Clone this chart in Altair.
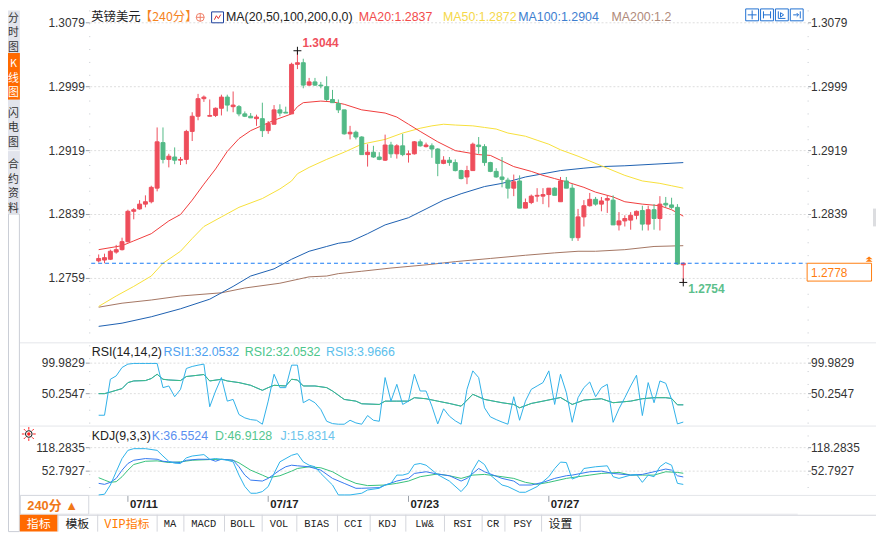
import altair as alt
import pandas as pd

# ---------------- values ----------------
opens = [
    1.2781, 1.2782, 1.2783, 1.2792, 1.2795, 1.2805, 1.2843, 1.2846, 1.2852, 1.2855,
    1.2872, 1.2929, 1.2908, 1.2911, 1.2907, 1.2908, 1.2943, 1.2962, 1.2984, 1.2962,
    1.2963, 1.2972, 1.2986, 1.2974, 1.2974, 1.2965, 1.2962, 1.2959, 1.2959, 1.2944,
    1.2952, 1.2970, 1.2967, 1.2965, 1.3027, 1.3029, 1.3001, 1.3005, 1.3001, 1.2999,
    1.2983, 1.2978, 1.2970, 1.2940, 1.2942, 1.2936, 1.2914, 1.2917, 1.2911, 1.2907,
    1.2926, 1.2915, 1.2925, 1.2914, 1.2915, 1.2930, 1.2924, 1.2925, 1.2921, 1.2903,
    1.2907, 1.2904, 1.2894, 1.2886, 1.2894, 1.2926, 1.2924, 1.2904, 1.2893, 1.2886,
    1.2882, 1.2872, 1.2881, 1.2847, 1.2854, 1.2862, 1.2862, 1.2864, 1.2872, 1.2855,
    1.2881, 1.2872, 1.2810, 1.2836, 1.2850, 1.2858, 1.2852, 1.2857, 1.2857, 1.2826,
    1.2831, 1.2832, 1.2838, 1.2844, 1.2827, 1.2845, 1.2834, 1.2853, 1.2851, 1.2848,
    1.2776]
highs = [
    1.2789, 1.2790, 1.2795, 1.2801, 1.2810, 1.2845, 1.2847, 1.2857, 1.2863, 1.2875,
    1.2948, 1.2948, 1.2915, 1.2923, 1.2911, 1.2945, 1.2967, 1.2990, 1.2988, 1.2983,
    1.2973, 1.2989, 1.2989, 1.2993, 1.2976, 1.2968, 1.2966, 1.2964, 1.2979, 1.2956,
    1.2976, 1.2977, 1.2974, 1.3029, 1.3044, 1.3034, 1.3010, 1.3010, 1.3005, 1.3012,
    1.2995, 1.2983, 1.2970, 1.2950, 1.2944, 1.2937, 1.2927, 1.2925, 1.2917, 1.2939,
    1.2930, 1.2927, 1.2940, 1.2919, 1.2931, 1.2933, 1.2929, 1.2928, 1.2922, 1.2912,
    1.2911, 1.2908, 1.2895, 1.2900, 1.2929, 1.2936, 1.2927, 1.2905, 1.2897, 1.2911,
    1.2885, 1.2889, 1.2888, 1.2859, 1.2864, 1.2872, 1.2872, 1.2872, 1.2873, 1.2886,
    1.2886, 1.2877, 1.2846, 1.2857, 1.2866, 1.2861, 1.2861, 1.2863, 1.2863, 1.2842,
    1.2838, 1.2842, 1.2844, 1.2850, 1.2850, 1.2852, 1.2862, 1.2861, 1.2860, 1.2852,
    1.2779]
lows = [
    1.2779, 1.2778, 1.2782, 1.2790, 1.2794, 1.2804, 1.2833, 1.2845, 1.2848, 1.2853,
    1.2868, 1.2903, 1.2898, 1.2902, 1.2901, 1.2902, 1.2931, 1.2957, 1.2980, 1.2962,
    1.2961, 1.2963, 1.2968, 1.2967, 1.2962, 1.2961, 1.2960, 1.2950, 1.2936, 1.2940,
    1.2952, 1.2962, 1.2966, 1.2965, 1.3021, 1.2997, 1.3000, 1.3000, 1.2997, 1.2981,
    1.2979, 1.2966, 1.2939, 1.2933, 1.2933, 1.2914, 1.2899, 1.2910, 1.2907, 1.2906,
    1.2910, 1.2909, 1.2912, 1.2904, 1.2914, 1.2924, 1.2923, 1.2910, 1.2887, 1.2902,
    1.2900, 1.2893, 1.2883, 1.2877, 1.2894, 1.2915, 1.2900, 1.2892, 1.2885, 1.2873,
    1.2859, 1.2862, 1.2847, 1.2847, 1.2852, 1.2855, 1.2852, 1.2848, 1.2863, 1.2855,
    1.2872, 1.2806, 1.2806, 1.2824, 1.2849, 1.2850, 1.2843, 1.2841, 1.2826, 1.2819,
    1.2824, 1.2820, 1.2833, 1.2819, 1.2819, 1.2820, 1.2819, 1.2848, 1.2846, 1.2776,
    1.2754]
closes = [
    1.2784, 1.2785, 1.2793, 1.2795, 1.2805, 1.2843, 1.2845, 1.2852, 1.2855, 1.2873,
    1.2930, 1.2908, 1.2912, 1.2907, 1.2908, 1.2943, 1.2962, 1.2984, 1.2986, 1.2963,
    1.2972, 1.2986, 1.2976, 1.2976, 1.2965, 1.2962, 1.2960, 1.2961, 1.2944, 1.2953,
    1.2970, 1.2966, 1.2966, 1.3027, 1.3029, 1.3001, 1.3005, 1.3001, 1.3000, 1.2983,
    1.2979, 1.2970, 1.2940, 1.2942, 1.2936, 1.2914, 1.2917, 1.2911, 1.2908, 1.2926,
    1.2915, 1.2925, 1.2914, 1.2915, 1.2930, 1.2925, 1.2926, 1.2921, 1.2903, 1.2907,
    1.2904, 1.2894, 1.2884, 1.2894, 1.2927, 1.2924, 1.2904, 1.2893, 1.2886, 1.2883,
    1.2872, 1.2880, 1.2847, 1.2854, 1.2862, 1.2863, 1.2864, 1.2872, 1.2863, 1.2881,
    1.2872, 1.2810, 1.2836, 1.2850, 1.2858, 1.2852, 1.2856, 1.2859, 1.2826, 1.2831,
    1.2834, 1.2838, 1.2843, 1.2827, 1.2845, 1.2834, 1.2852, 1.2851, 1.2848, 1.2777,
    1.2778]

ma20 = [(0, 1.2795), (4, 1.2800), (6, 1.2806), (9, 1.2815), (12, 1.2831), (14, 1.2839),
        (16, 1.2857), (18, 1.2877), (20, 1.2896), (22, 1.2918), (24, 1.2934), (26, 1.2944),
        (30, 1.2957), (33, 1.2965), (34, 1.2974), (35, 1.2979), (38, 1.2981), (40, 1.2980),
        (42, 1.2977), (45, 1.2970), (49, 1.2966), (51, 1.2961), (53, 1.2952), (55, 1.2943),
        (58, 1.2930), (61, 1.2919), (65, 1.2914), (67, 1.2913), (69, 1.2906), (71, 1.2899),
        (74, 1.2893), (76, 1.2888), (78, 1.2884), (80, 1.2880), (83, 1.2873), (85, 1.2867),
        (88, 1.2861), (90, 1.2855), (93, 1.2852), (96, 1.2850), (98, 1.2845), (100, 1.2837)]
ma50 = [(0, 1.2724), (3, 1.2737), (6, 1.2749), (9, 1.2762), (11, 1.2778), (14, 1.2793),
        (16, 1.2809), (18, 1.2824), (21, 1.2836), (24, 1.2848), (28, 1.2859), (31, 1.2871),
        (33, 1.2881), (34, 1.2890), (36, 1.2898), (39, 1.2908), (42, 1.2917), (45, 1.2927),
        (49, 1.2933), (52, 1.2941), (55, 1.2947), (57, 1.2950), (59, 1.2952), (61, 1.2951),
        (64, 1.2950), (66, 1.2948), (68, 1.2946), (70, 1.2941), (73, 1.2937), (75, 1.2932),
        (77, 1.2927), (79, 1.2920), (82, 1.2912), (86, 1.2900), (90, 1.2888), (93, 1.2881),
        (96, 1.2878), (98, 1.2875), (100, 1.2872)]
ma100 = [(0, 1.2699), (4, 1.2703), (9, 1.2711), (14, 1.2721), (19, 1.2733), (21, 1.2741),
         (23, 1.2749), (26, 1.2762), (30, 1.2771), (33, 1.2783), (36, 1.2793), (39, 1.2799),
         (41, 1.2803), (43, 1.2805), (46, 1.2815), (49, 1.2826), (53, 1.2835), (56, 1.2846),
         (59, 1.2857), (62, 1.2865), (66, 1.2874), (69, 1.2878), (73, 1.2886), (76, 1.2890),
         (79, 1.2894), (83, 1.2897), (86, 1.2899), (90, 1.2900), (95, 1.2902), (100, 1.2904)]
ma200 = [(0, 1.2723), (4, 1.2728), (9, 1.2732), (14, 1.2737), (21, 1.2741), (25, 1.2747),
         (31, 1.2753), (36, 1.2761), (39, 1.2762), (41, 1.2765), (45, 1.2768), (50, 1.2772),
         (56, 1.2776), (61, 1.2780), (67, 1.2784), (73, 1.2788), (78, 1.2791), (82, 1.2793),
         (85, 1.2793), (90, 1.2795), (95, 1.2799), (100, 1.2800)]

rsi3 = [15.1, 15.1, 73.7, 79.2, 92.9, 98.4, 99.5, 99.5, 99.5, 99.5,
        99.5, 60.1, 62.8, 45.3, 57.3, 91.3, 94.6, 96.7, 98.4, 28.9,
        54.6, 76.5, 38.1, 40.9, 16.3, 10.8, 8.0, 6.9, 0.5, 38.1,
        81.9, 60.1, 60.1, 96.7, 96.7, 35.5, 40.9, 35.5, 24.5, 5.3,
        1.5, 0.5, 0.5, 6.9, 2.6, 0.5, 14.6, 6.9, 5.3, 76.5,
        38.1, 65.5, 32.7, 38.1, 81.9, 54.6, 54.6, 29.9, 1.0, 25.6,
        13.5, 6.0, 0.5, 57.3, 87.4, 76.5, 27.2, 12.5, 8.0, 4.0,
        0.5, 45.3, 6.9, 38.1, 57.3, 62.8, 68.3, 87.4, 32.7, 81.9,
        51.9, 3.6, 43.7, 60.1, 69.3, 45.3, 60.1, 65.5, 3.6, 25.6,
        43.7, 62.8, 80.3, 14.6, 68.3, 35.5, 71.0, 67.2, 40.9, 1.0,
        3.9666]
rsi2 = [(0, 50.3), (1, 50.3), (2, 52.9), (3, 55.7), (4, 58.5), (5, 68.3), (6, 71.0), (8, 71.6),
        (9, 74.9), (10, 81.9), (11, 73.7), (12, 72.6), (14, 71.6), (15, 78.2), (17, 80.3),
        (18, 81.5), (19, 71.0), (21, 73.7), (22, 71.0), (24, 68.3), (26, 63.9), (28, 55.7),
        (29, 60.1), (30, 63.9), (32, 62.8), (33, 73.7), (34, 72.6), (35, 62.8), (37, 62.8),
        (39, 60.1), (40, 54.6), (42, 40.9), (44, 38.1), (45, 33.8), (48, 32.7), (49, 38.1),
        (51, 38.1), (53, 38.1), (54, 43.7), (56, 42.0), (58, 38.1), (60, 34.3), (62, 29.9),
        (64, 49.2), (66, 40.9), (69, 35.5), (71, 32.7), (72, 27.2), (74, 34.3), (76, 38.1),
        (78, 42.0), (79, 44.0), (81, 32.7), (83, 39.8), (86, 42.0), (88, 35.5), (91, 38.1),
        (93, 42.0), (95, 43.7), (97, 43.7), (98, 42.5), (99, 32.1), (100, 32.05)]
rsi1 = list(rsi2)  # legend shows RSI1 == RSI2 (32.0532); drawn underneath
kdj_k = [(0, 18.8), (1, 16.0), (2, 21.6), (3, 32.6), (4, 55.6), (5, 74.1), (6, 83.2), (8, 87.9),
         (10, 86.0), (11, 80.4), (12, 78.8), (14, 76.8), (15, 83.2), (17, 86.0), (19, 86.0),
         (20, 80.4), (21, 86.0), (23, 83.2), (24, 65.0), (25, 41.8), (26, 27.9), (28, 25.2),
         (29, 32.6), (31, 55.6), (32, 65.0), (33, 69.4), (34, 67.7), (36, 65.0), (38, 55.6),
         (40, 32.6), (42, 18.8), (44, 5.0), (45, 5.0), (48, 6.9), (49, 14.1), (51, 25.2),
         (53, 32.6), (54, 46.4), (56, 51.1), (58, 44.5), (60, 40.0), (62, 25.2), (63, 32.6),
         (65, 60.2), (66, 51.1), (69, 32.6), (71, 25.2), (72, 14.1), (74, 14.1), (76, 21.6),
         (78, 32.6), (80, 40.0), (81, 41.8), (84, 51.1), (86, 52.8), (88, 46.4), (91, 41.8),
         (93, 43.7), (95, 51.1), (97, 58.7), (98, 55.6), (99, 40.0), (100, 36.5524)]
kdj_d = [(0, 34.5), (1, 28.0), (2, 21.6), (3, 23.5), (4, 37.3), (5, 55.6), (6, 71.3), (8, 80.4),
         (10, 81.5), (12, 76.8), (14, 78.8), (16, 83.2), (19, 85.1), (21, 86.0), (23, 83.2),
         (24, 76.0), (26, 55.6), (28, 41.8), (29, 34.5), (31, 40.0), (33, 52.8), (34, 60.2),
         (36, 65.0), (38, 62.2), (40, 51.1), (42, 32.6), (44, 18.8), (46, 12.5), (49, 14.1),
         (51, 18.8), (53, 25.2), (55, 37.3), (58, 45.0), (60, 40.0), (62, 32.6), (64, 41.8),
         (66, 43.7), (69, 37.3), (71, 32.6), (73, 21.6), (75, 16.0), (77, 21.6), (80, 32.6),
         (82, 37.3), (84, 41.8), (86, 46.4), (89, 49.3), (91, 41.8), (93, 41.8), (95, 41.8),
         (97, 51.1), (99, 49.3), (100, 46.9128)]
kdj_j = [(0, -13.5), (1, -11.6), (2, 14.1), (3, 51.1), (4, 87.9), (5, 110.8), (6, 115.5),
         (8, 115.5), (10, 110.8), (11, 95.0), (12, 80.0), (13, 75.0), (14, 74.0), (15, 89.8),
         (16, 95.0), (18, 99.0), (19, 86.0), (20, 88.0), (22, 83.2), (23, 78.8), (24, 41.8),
         (25, 10.0), (26, -8.8), (27, -8.8), (28, -4.2), (29, 9.7), (30, 46.4), (31, 78.8),
         (33, 97.0), (34, 101.7), (35, 78.8), (36, 69.4), (37, 65.0), (38, 46.4), (40, 14.1),
         (41, -13.5), (42, -13.5), (43, -13.5), (45, -8.8), (46, 0.3), (48, 5.0), (49, 14.1),
         (50, 18.8), (51, 41.8), (52, 41.8), (53, 46.4), (54, 71.3), (55, 74.1), (56, 69.4),
         (58, 43.0), (60, 25.0), (62, -4.2), (63, 14.1), (64, 55.6), (65, 83.2), (66, 71.3),
         (67, 41.8), (69, 14.1), (70, 9.7), (72, -6.1), (73, -6.1), (75, 9.7), (76, 23.5),
         (77, 37.3), (78, 60.0), (79, 78.0), (80, 76.8), (81, 30.7), (82, 37.3), (83, 60.2),
         (85, 65.0), (87, 67.7), (88, 37.3), (89, 32.6), (91, 41.8), (92, 43.7), (93, 21.6),
         (94, 41.8), (95, 37.3), (96, 65.0), (97, 76.8), (98, 69.4), (99, 18.8), (100, 15.8314)]

price_ticks = [1.3079, 1.2999, 1.2919, 1.2839, 1.2759]
rsi_ticks = [99.9829, 50.2547]
kdj_ticks = [118.2835, 52.7927]
date_pos = [5, 29, 53, 77]
date_labels = ["07/11", "07/17", "07/23", "07/27"]
last_price = 1.2778

symbol = "英镑美元"
period_txt = "【240分】"
ma_title = "MA(20,50,100,200,0,0)"
ma_legend = ["MA20:1.2837", "MA50:1.2872", "MA100:1.2904", "MA200:1.2"]
rsi_title = "RSI(14,14,2)"
rsi_legend = ["RSI1:32.0532", "RSI2:32.0532", "RSI3:3.9666"]
kdj_title = "KDJ(9,3,3)"
kdj_legend = ["K:36.5524", "D:46.9128", "J:15.8314"]
side_tabs = ["分时图", "K线图", "闪电图", "合约资料"]
tool_tabs = ["指标", "模板", "VIP指标", "MA", "MACD", "BOLL", "VOL", "BIAS", "CCI",
             "KDJ", "LW&", "RSI", "CR", "PSY", "设置"]
period_btn = "240分 ▲"

# ---------------- styles ----------------
FONT = "Liberation Sans, Noto Sans CJK SC, sans-serif"
CJK = "Noto Sans CJK SC, sans-serif"
MONO = "Liberation Mono, monospace"
UP, DOWN = "#ee4d5b", "#52b986"
C_MA = ["#f03c3c", "#f7e03a", "#1c5fb0", "#a47562"]
C_MA_TXT = ["#f24b4b", "#f5d84a", "#3d7ecf", "#b08a7a"]
C_RSI = ["#3d8be8", "#3cbf80", "#2fb0e8"]
C_RSI_TXT = ["#4d9ff0", "#4cc68c", "#5cc0ec"]
C_KDJ = ["#3478f0", "#36c07a", "#2cb2ea"]
C_KDJ_TXT = ["#5a8ff0", "#54c690", "#6cc4ec"]
GRID = "#dedede"
SEP = "#e4e6ea"
ORANGE = "#ff7d0f"
TXT = "#333333"

W, H = 876, 526
XS = alt.Scale(domain=[0, len(opens) - 1], range=[86.5, 686.5], nice=False, zero=False)
YM = alt.Scale(domain=[price_ticks[-1], price_ticks[0]], range=[270.5, 12.5], nice=False, zero=False)
YR = alt.Scale(domain=[rsi_ticks[1], rsi_ticks[0]], range=[386.8, 356.0], nice=False, zero=False)
YK = alt.Scale(domain=[kdj_ticks[1], kdj_ticks[0]], range=[465.0, 441.3], nice=False, zero=False)


def X(f="i"):
    return alt.X(f"{f}:Q", scale=XS, axis=None)


def Y(f, sc):
    return alt.Y(f"{f}:Q", scale=sc, axis=None)


ONE = pd.DataFrame({"k": [0]})


def txt(s, x, y, color=TXT, size=12, bold=False, align="left", font=FONT, baseline="middle", lh=None):
    kw = dict(text=s, align=align, baseline=baseline, color=color, fontSize=size, font=font)
    if bold:
        kw["fontWeight"] = "bold"
    if lh:
        kw["lineHeight"] = lh
    return alt.Chart(ONE).mark_text(**kw).encode(x=alt.value(x), y=alt.value(y))


def box(x0, x1, y0, y1, fill=None, stroke=None, sw=1):
    kw = {}
    if fill:
        kw["fill"] = fill
    else:
        kw["fillOpacity"] = 0
    if stroke:
        kw["stroke"] = stroke
        kw["strokeWidth"] = sw
    return alt.Chart(ONE).mark_rect(**kw).encode(
        x=alt.value(x0), x2=alt.value(x1), y=alt.value(y0), y2=alt.value(y1))


def hline(y, x0, x1, color, dash=None, sw=1):
    kw = dict(color=color, strokeWidth=sw)
    if dash:
        kw["strokeDash"] = dash
    return alt.Chart(ONE).mark_rule(**kw).encode(x=alt.value(x0), x2=alt.value(x1), y=alt.value(y))


def vline(x, y0, y1, color, dash=None, sw=1):
    kw = dict(color=color, strokeWidth=sw)
    if dash:
        kw["strokeDash"] = dash
    return alt.Chart(ONE).mark_rule(**kw).encode(x=alt.value(x), y=alt.value(y0), y2=alt.value(y1))


def pt(x, y, shape, size, color, filled=False, sw=1):
    return alt.Chart(ONE).mark_point(shape=shape, size=size, filled=filled, color=color,
                                     strokeWidth=sw, opacity=1).encode(x=alt.value(x), y=alt.value(y))


CROSS = "M-1,0L1,0M0,-1L0,1"

# ---------------- data frames ----------------
n = len(opens)
candles = pd.DataFrame({"i": list(range(n)), "o": opens, "h": highs, "l": lows, "c": closes})
candles["dir"] = ["up" if c >= o else "down" for o, c in zip(opens, closes)]
CS = alt.Scale(domain=["up", "down"], range=[UP, DOWN])


def series(pairs):
    return pd.DataFrame(pairs, columns=["i", "v"])


def tick_df(vals):
    return pd.DataFrame({"v": vals, "lab": [f"{v:.4f}" for v in vals]})


def panel_frame(vals, sc, right_vals=None):
    d = tick_df(vals)
    dr = tick_df(vals if right_vals is None else right_vals)
    grid = alt.Chart(d).mark_rule(color=GRID, strokeDash=[2, 2]).encode(
        y=Y("v", sc), x=alt.value(83), x2=alt.value(807))
    left = alt.Chart(d).mark_text(align="right", baseline="middle", fontSize=12, font=FONT,
                                  color=TXT).encode(y=Y("v", sc), x=alt.value(77.5), text="lab:N")
    right = alt.Chart(dr).mark_text(align="left", baseline="middle", fontSize=12, font=FONT,
                                    color=TXT).encode(y=Y("v", sc), x=alt.value(810.5), text="lab:N")
    tl = alt.Chart(d).mark_rule(color="#9aa0a8").encode(y=Y("v", sc), x=alt.value(78.5), x2=alt.value(82.5))
    tr = alt.Chart(d).mark_rule(color="#9aa0a8").encode(y=Y("v", sc), x=alt.value(807.5), x2=alt.value(810.5))
    return [grid, left, right, tl, tr]


# ---------------- main price panel ----------------
# the last-price box on the right axis hides the tick label that it covers
right_price_ticks = [v for v in price_ticks if abs(v - last_price) > 0.0025]
main_layers = panel_frame(price_ticks, YM, right_price_ticks)
for pairs, col in zip([ma200, ma100, ma50, ma20], [C_MA[3], C_MA[2], C_MA[1], C_MA[0]]):
    main_layers.append(alt.Chart(series(pairs)).mark_line(color=col, strokeWidth=1).encode(
        x=X(), y=Y("v", YM)))
main_layers.append(alt.Chart(candles).mark_rule(strokeWidth=1).encode(
    x=X(), y=Y("l", YM), y2="h:Q", color=alt.Color("dir:N", scale=CS, legend=None)))
main_layers.append(alt.Chart(candles).mark_bar(size=4, strokeWidth=1).encode(
    x=X(), y=Y("o", YM), y2="c:Q",
    color=alt.Color("dir:N", scale=CS, legend=None),
    stroke=alt.Stroke("dir:N", scale=CS, legend=None)))

last_df = pd.DataFrame({"p": [last_price], "lab": [f"{last_price:.4f}"]})
main_layers.append(alt.Chart(last_df).mark_rule(color="#1a7cf5", strokeDash=[4, 3], strokeWidth=1.2).encode(
    y=Y("p", YM), x=alt.value(84), x2=alt.value(806)))
main_layers.append(alt.Chart(last_df).mark_rect(fill="white", stroke=ORANGE, strokeWidth=1, y2Offset=18).encode(
    y=Y("p", YM), y2="p:Q", x=alt.value(806.5), x2=alt.value(871.5)))
main_layers.append(alt.Chart(last_df).mark_text(align="left", baseline="middle", dy=9.5, color=ORANGE,
                                                fontSize=12, font=FONT).encode(
    y=Y("p", YM), x=alt.value(810.5), text="lab:N"))
main_layers.append(alt.Chart(last_df).mark_point(
    shape="M-1,0.3L0,-0.5L1,0.3ZM-1,1L0,0.2L1,1Z", size=49, filled=True, color=ORANGE,
    opacity=1, yOffset=-5).encode(y=Y("p", YM), x=alt.value(869)))

hi_i = max(range(n), key=lambda k: highs[k])
lo_i = min(range(n), key=lambda k: lows[k])
hi_df = pd.DataFrame({"i": [hi_i], "p": [highs[hi_i]], "lab": [f"{highs[hi_i]:.4f}"]})
lo_df = pd.DataFrame({"i": [lo_i], "p": [lows[lo_i]], "lab": [f"{lows[lo_i]:.4f}"]})
for d, col, dx, dy in [(hi_df, "#ef4f5c", 5, -8), (lo_df, "#5cbf8c", 5, 7)]:
    main_layers.append(alt.Chart(d).mark_point(shape=CROSS, size=64, filled=False, color="#111",
                                               strokeWidth=1, opacity=1).encode(x=X(), y=Y("p", YM)))
    main_layers.append(alt.Chart(d).mark_text(align="left", baseline="middle", dx=dx, dy=dy, color=col,
                                              fontSize=12, fontWeight="bold", font=FONT).encode(
        x=X(), y=Y("p", YM), text="lab:N"))
main = alt.layer(*main_layers)

# ---------------- RSI panel ----------------
rsi_layers = panel_frame(rsi_ticks, YR)
rsi3_df = pd.DataFrame({"i": list(range(len(rsi3))), "v": rsi3})
for d, col in [(series(rsi1), C_RSI[0]), (series(rsi2), C_RSI[1]), (rsi3_df, C_RSI[2])]:
    rsi_layers.append(alt.Chart(d).mark_line(color=col, strokeWidth=1).encode(x=X(), y=Y("v", YR)))
rsi = alt.layer(*rsi_layers)

# ---------------- KDJ panel ----------------
kdj_layers = panel_frame(kdj_ticks, YK)
for pairs, col in [(kdj_d, C_KDJ[1]), (kdj_k, C_KDJ[0]), (kdj_j, C_KDJ[2])]:
    kdj_layers.append(alt.Chart(series(pairs)).mark_line(color=col, strokeWidth=1).encode(
        x=X(), y=Y("v", YK)))
kdj = alt.layer(*kdj_layers)

# ---------------- chrome (tabs, headers, frame) ----------------
ch = []
ch.append(box(0, W, 0, H, fill="white"))
ch.append(vline(82.5, 0, 489, "#c4c8ce", dash=[1, 12]))
ch.append(vline(807.5, 0, 489, "#c4c8ce", dash=[1, 12]))
ch.append(hline(335.5, 12, W, SEP))
ch.append(hline(419.5, 12, W, SEP))
ch.append(hline(489.5, 12, W, SEP))
ch.append(hline(508.5, 82, 797, SEP))
ch.append(box(873, 876, 200, 218, fill="#dcdde0"))
chrome_back = alt.layer(*ch)

ch = []
# sidebar (vertical tab captions, one character per line)
ch.append(box(0, 12, 0, 205, fill="#e2e4ec"))
ch.append(box(0, 12, 43, 90, fill="#ff6a00"))
ch.append(hline(141.5, 0, 12, "#f6f7fa"))
ch.append(box(0.5, 11.5, 205.5, 526, fill="white", stroke="#c9cdd6"))
side_top = [2.5, 48.5, 98.5, 150.5]
for tab, yt in zip(side_tabs, side_top):
    ch.append(txt(list(tab), 5.5, yt, color="white" if tab == "K线图" else TXT, size=11,
                  align="center", font=CJK, baseline="top", lh=14.5))

# header line
HY = 7
ch.append(txt(symbol, 84, HY, color="#222", size=12.5, font=CJK))
ch.append(txt(period_txt, 133, HY, color="#f5841f", size=12.5, font=CJK))
ch.append(pt(194, HY, "circle", 64, "#ef7f68"))
ch.append(pt(194, HY, CROSS, 64, "#ef7f68"))
ch.append(box(205.5, 217.5, 1.5, 12.5, fill="white", stroke="#1b3f9c"))
ch.append(pt(211.5, 7, "M-0.8,0.6L-0.3,-0.4L0.2,0.3L0.8,-0.7", 64, "#e03030"))
ch.append(txt(ma_title, 220, HY, color="#222", size=12.5))
for s, xv, col in zip(ma_legend, [354, 439, 515, 609], C_MA_TXT):
    ch.append(txt(s, xv, HY, color=col, size=12.5))
for xv in [744, 759, 774, 789]:
    ch.append(box(xv + 0.5, xv + 13.5, -1.5, 10.5, fill="white", stroke="#1f6fd1"))
ch.append(pt(751, 4.5, CROSS, 80, "#1f6fd1"))
ch.append(pt(766, 4.5, "M-0.8,-0.8L-0.8,0.8M0.8,-0.8L0.8,0.8M-0.8,0L0.8,0", 80, "#1f6fd1"))
ch.append(pt(781, 4.5, "M-0.8,-0.8L-0.8,0.8L0.8,0.8M-0.3,-0.5L0.4,0L-0.3,0.5Z", 80, "#1f6fd1"))
ch.append(pt(796, 4.5, "M0.8,-0.8L0.8,0.8M-0.8,0L0.4,0M0,-0.4L0.4,0L0,0.4", 80, "#1f6fd1"))

# RSI / KDJ headers
RY, KY = 344.5, 429.5
ch.append(txt(rsi_title, 84.5, RY, color="#222", size=12.5))
for s, xv, col in zip(rsi_legend, [157, 239, 321], C_RSI_TXT):
    ch.append(txt(s, xv, RY, color=col, size=12.5))
ch.append(txt(kdj_title, 84.5, KY, color="#222", size=12.5))
for s, xv, col in zip(kdj_legend, [145, 209, 275], C_KDJ_TXT):
    ch.append(txt(s, xv, KY, color=col, size=12.5))
ch.append(pt(21, 427.5,
             "M0,-1L0,-0.62M0,0.62L0,1M-1,0L-0.62,0M0.62,0L1,0M-0.72,-0.72L-0.47,-0.47M0.47,0.47L0.72,0.72"
             "M-0.72,0.72L-0.47,0.47M0.47,-0.47L0.72,-0.72", 196, "#ff2020"))
ch.append(pt(21, 427.5, "circle", 45, "#111"))
ch.append(pt(21, 427.5, "circle", 12, "#ff2020", filled=True))

# x axis
dates = pd.DataFrame({"i": date_pos, "lab": date_labels})
ch.append(alt.Chart(dates).mark_rule(color="#9aa0a8").encode(x=X(), y=alt.value(490), y2=alt.value(496)))
ch.append(alt.Chart(dates).mark_text(align="left", baseline="middle", dx=2, fontSize=11.5,
                                     fontWeight="bold", font=FONT, color="#222").encode(
    x=X(), y=alt.value(499), text="lab:N"))
ch.append(box(12.5, 81.5, 489.5, 508.5, fill="white", stroke="#d5d8de"))
ch.append(txt(period_btn, 45, 500, color="#f07818", size=13, bold=True, align="center", font=FONT))

# bottom toolbar
edges = [12, 50, 90, 150, 177, 218, 256, 291, 332, 365, 401, 440, 478, 501, 538, 577]
ch.append(box(12, W, 509, H, fill="white"))
ch.append(hline(509.5, 12, W, "#d3d6dc"))
ch.append(box(12, 50, 509, H, fill="#ff6a00"))
for e in edges[1:]:
    ch.append(vline(e + 0.5, 509, H, "#d3d6dc"))
for k, lab in enumerate(tool_tabs):
    cx = (edges[k] + edges[k + 1]) / 2
    is_cjk = any(ord(c) > 255 for c in lab)
    col = "white" if k == 0 else ("#ff7b00" if lab.startswith("VIP") else "#222")
    fnt = "Liberation Mono, Noto Sans CJK SC" if lab.startswith("VIP") else (CJK if is_cjk else MONO)
    ch.append(txt(lab, cx, 518, color=col, size=12 if is_cjk else 10.5, align="center", font=fnt))

chrome_front = alt.layer(*ch)

chart = alt.layer(chrome_back, main, rsi, kdj, chrome_front).resolve_scale(
    y="independent"
).properties(
    width=W, height=H, padding=0, autosize=alt.AutoSizeParams(type="none"), background="white"
).configure_view(strokeWidth=0)

chart.save("out.html", embed_options={"renderer": "svg", "actions": False})
